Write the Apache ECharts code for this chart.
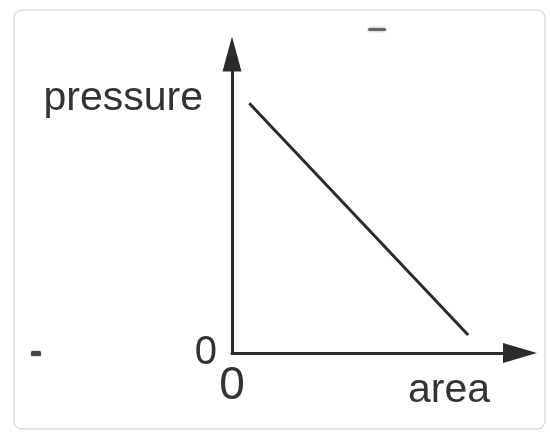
<!DOCTYPE html>
<html>
<head>
<meta charset="utf-8">
<script src="https://cdn.jsdelivr.net/npm/echarts@6/dist/echarts.min.js"></script>
<style>
  html, body { margin: 0; padding: 0; background: #ffffff; }
  #chart { width: 550px; height: 434px; }
</style>
</head>
<body>
<div id="chart"></div>
<script>
// Pressure falls as the contact area grows (arbitrary units).
const areaValues = [0.6, 8.2];
const pressureValues = [8.35, 0.6];
const xAxisTitle = 'area';
const yAxisTitle = 'pressure';
const originLabel = '0';

const lineData = areaValues.map((a, i) => [a, pressureValues[i]]);
const ink = '#2b2b2b';
const font = '"Liberation Sans", Arial, Helvetica, sans-serif';

const chart = echarts.init(document.getElementById('chart'), null, { renderer: 'canvas' });

chart.setOption({
  animation: false,
  backgroundColor: '#ffffff',
  grid: { left: 232, right: 30, top: 54, bottom: 81, containLabel: false },
  xAxis: {
    type: 'value',
    min: 0,
    max: 10,
    interval: 10,
    splitLine: { show: false },
    axisTick: { show: false },
    axisLine: {
      show: true,
      onZero: false,
      symbol: ['none', 'triangle'],
      symbolSize: [20, 34],
      lineStyle: { color: ink, width: 3 }
    },
    axisLabel: {
      show: true,
      margin: 10,
      color: '#333333',
      fontFamily: font,
      fontSize: 46,
      showMaxLabel: false,
      formatter: v => (v === 0 ? originLabel : '')
    }
  },
  yAxis: {
    type: 'value',
    min: 0,
    max: 10,
    interval: 10,
    splitLine: { show: false },
    axisTick: { show: false },
    axisLine: {
      show: true,
      onZero: false,
      symbol: ['none', 'triangle'],
      symbolSize: [19, 35],
      lineStyle: { color: ink, width: 3 }
    },
    axisLabel: {
      show: true,
      margin: 15,
      padding: [6, 0, 0, 0],
      color: '#333333',
      fontFamily: font,
      fontSize: 40,
      showMaxLabel: false,
      formatter: v => (v === 0 ? originLabel : '')
    }
  },
  graphic: [
    {
      type: 'rect',
      z: -10,
      silent: true,
      shape: { x: 14, y: 10, width: 531, height: 419, r: 8 },
      style: { fill: '#ffffff', stroke: '#dedede', lineWidth: 1.5 }
    },
    {
      type: 'text',
      silent: true,
      right: 550 - 203,
      top: 78,
      style: { text: yAxisTitle, fill: '#333333', font: '41px ' + font }
    },
    {
      type: 'text',
      silent: true,
      left: 408,
      top: 370,
      style: { text: xAxisTitle, fill: '#333333', font: '41px ' + font }
    },
    {
      type: 'rect',
      silent: true,
      shape: { x: 368, y: 28, width: 18, height: 3, r: 1.5 },
      style: { fill: '#666666', shadowBlur: 3, shadowColor: 'rgba(0,0,0,0.4)' }
    },
    {
      type: 'rect',
      silent: true,
      shape: { x: 31, y: 351, width: 10, height: 5, r: 1.5 },
      style: { fill: '#444444', shadowBlur: 2, shadowColor: 'rgba(0,0,0,0.4)' }
    }
  ],
  series: [
    {
      type: 'line',
      data: lineData,
      symbol: 'none',
      silent: true,
      lineStyle: { color: ink, width: 3 }
    }
  ]
});
</script>
</body>
</html>
